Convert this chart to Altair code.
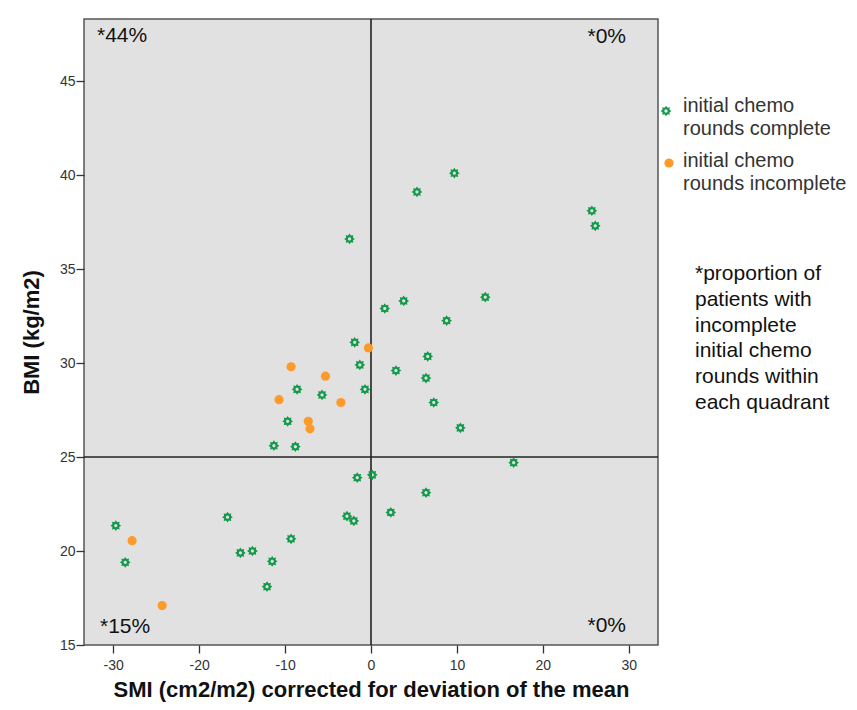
import math
import altair as alt
import pandas as pd

# ---------------- data ----------------
complete_smi = [-2.5, 1.6, 3.8, -1.9, -1.3, 2.9, -8.6, -5.7, -0.7, -9.7, -11.3, -8.8,
                9.7, 5.35, 13.3, 8.8, 6.6, 6.4, 7.3, 10.4, 16.6, 25.7, 26.1,
                0.15, -1.6, -2.8, -2.0, 2.3, 6.4,
                -29.7, -28.6, -16.7, -15.2, -13.8, -9.3, -11.5, -12.1]
complete_bmi = [36.6, 32.9, 33.3, 31.1, 29.9, 29.6, 28.6, 28.3, 28.6, 26.9, 25.6, 25.55,
                40.1, 39.1, 33.5, 32.25, 30.35, 29.2, 27.9, 26.55, 24.7, 38.1, 37.3,
                24.05, 23.9, 21.85, 21.6, 22.05, 23.1,
                21.35, 19.4, 21.8, 19.9, 20.0, 20.65, 19.45, 18.1]
incomplete_smi = [-0.3, -9.3, -5.3, -10.7, -3.5, -7.3, -7.1, -27.8, -24.3]
incomplete_bmi = [30.8, 29.8, 29.3, 28.05, 27.9, 26.9, 26.5, 20.55, 17.1]

groups = ["initial chemo rounds complete", "initial chemo rounds incomplete"]
legend_lines = [["initial chemo", "rounds complete"], ["initial chemo", "rounds incomplete"]]
group_colors = ["#129A4A", "#FC9A2A"]

x_ticks = [-30, -20, -10, 0, 10, 20, 30]
y_ticks = [15, 20, 25, 30, 35, 40, 45]
ref_smi = [0]
ref_bmi = [25]

quadrant_labels = ["*44%", "*0%", "*15%", "*0%"]
note_text = "*proportion of\npatients with\nincomplete\ninitial chemo\nrounds within\neach quadrant"

x_title = "SMI (cm2/m2) corrected for deviation of the mean"
y_title = "BMI (kg/m2)"

# ---------------- marker shape (style) ----------------
def star_path(n=8, ro=1.0, ri=0.68, rh=0.3):
    pts = []
    for k in range(2 * n):
        r = ro if k % 2 == 0 else ri
        a = math.pi * k / n
        pts.append((r * math.sin(a), -r * math.cos(a)))
    d = "M" + " L".join(f"{x:.3f},{y:.3f}" for x, y in pts) + " Z"
    hole = []
    m = 16
    for k in range(m):
        a = -2 * math.pi * k / m
        hole.append((rh * math.sin(a), -rh * math.cos(a)))
    d += " M" + " L".join(f"{x:.3f},{y:.3f}" for x, y in hole) + " Z"
    return d

STAR = star_path()
SHAPES = [STAR, "circle"]
SIZES = [115, 85]

df = pd.DataFrame({
    "smi": complete_smi + incomplete_smi,
    "bmi": complete_bmi + incomplete_bmi,
    "group": [groups[0]] * len(complete_smi) + [groups[1]] * len(incomplete_smi),
})

FONT = "Liberation Sans"
x_scale = alt.Scale(domain=[-33.4, 33.4], nice=False, zero=False)
y_scale = alt.Scale(domain=[15, 48.3], nice=False, zero=False)

x_axis = alt.Axis(values=x_ticks, title=x_title, titleFontSize=22, titleFontWeight="bold",
                  titleBaseline="alphabetic", titleY=51, labelFontSize=14,
                  labelPadding=5, labelExpr="'' + datum.value")
y_axis = alt.Axis(values=y_ticks, title=y_title, titleFontSize=22, titleFontWeight="bold",
                  titleX=-41, labelFontSize=14, labelPadding=1, labelExpr="'' + datum.value")

points = alt.Chart(df).mark_point(filled=True, opacity=1, strokeWidth=0).encode(
    x=alt.X("smi:Q", scale=x_scale, axis=x_axis),
    y=alt.Y("bmi:Q", scale=y_scale, axis=y_axis),
    color=alt.Color("group:N", scale=alt.Scale(domain=groups, range=group_colors), legend=None),
    shape=alt.Shape("group:N", scale=alt.Scale(domain=groups, range=SHAPES), legend=None),
    size=alt.Size("group:N", scale=alt.Scale(domain=groups, range=SIZES), legend=None),
)

vline = alt.Chart(pd.DataFrame({"v": ref_smi})).mark_rule(color="#222222", strokeWidth=1.6).encode(
    x=alt.X("v:Q", scale=x_scale)
)
hline = alt.Chart(pd.DataFrame({"h": ref_bmi})).mark_rule(color="#222222", strokeWidth=1.6).encode(
    y=alt.Y("h:Q", scale=y_scale)
)

def label(text, x, y, align, size=21, color="#111111", line_height=None):
    kw = dict(align=align, baseline="alphabetic", fontSize=size, font=FONT, color=color)
    if line_height is not None:
        kw.update(lineBreak="\n", lineHeight=line_height)
    return alt.Chart(pd.DataFrame({"t": [text]})).mark_text(**kw).encode(
        text="t:N", x=alt.value(x), y=alt.value(y))

q1 = label(quadrant_labels[0], 13, 23, "left")
q2 = label(quadrant_labels[1], 542, 24, "right")
q3 = label(quadrant_labels[2], 16, 614, "left")
q4 = label(quadrant_labels[3], 542, 613, "right")

note = label(note_text, 611, 261, "left", size=21, line_height=25.8)

# manual legend (symbols + two-line labels)
def legend_symbol(i, x, y):
    return alt.Chart(pd.DataFrame({"g": [groups[i]]})).mark_point(
        filled=True, opacity=1, strokeWidth=0, shape=SHAPES[i], size=SIZES[i], color=group_colors[i]
    ).encode(x=alt.value(x), y=alt.value(y))

leg = [
    legend_symbol(0, 582, 92),
    legend_symbol(1, 585, 144),
    label("\n".join(legend_lines[0]), 599, 93, "left", size=20, color="#333333", line_height=22.5),
    label("\n".join(legend_lines[1]), 599, 148, "left", size=20, color="#333333", line_height=22.5),
]

chart = alt.layer(vline, hline, points, q1, q2, q3, q4, note, *leg).properties(
    width=574, height=626,
    autosize=alt.AutoSizeParams(type="none"),
    padding={"left": 76, "top": 11, "right": 191, "bottom": 57},
).configure(font=FONT).configure_view(
    fill="#E1E1E1", stroke="#555555", strokeWidth=1.5
).configure_axis(
    grid=False, domain=False, tickSize=8, tickColor="#333333", tickWidth=1.3,
    labelColor="#333333", labelFont=FONT, titleFont=FONT, titleColor="#111111"
)

chart.save("out.html", embed_options={"renderer": "svg", "actions": False})
